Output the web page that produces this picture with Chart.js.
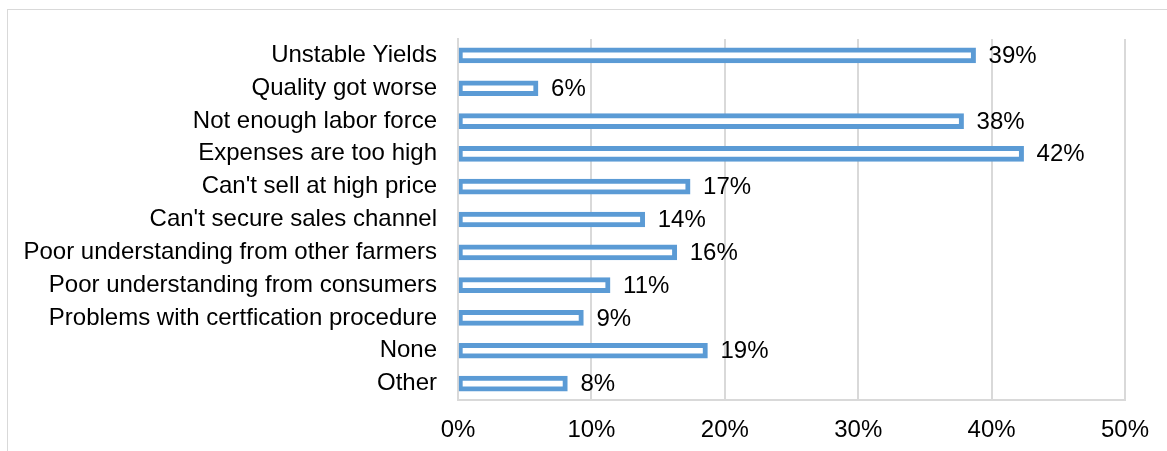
<!DOCTYPE html>
<html>
<head>
<meta charset="utf-8">
<script src="https://cdn.jsdelivr.net/npm/chart.js@4/dist/chart.umd.min.js"></script>
<style>
  html, body { margin: 0; padding: 0; background: #fff; overflow: hidden; }
  #frame { position: absolute; left: 7px; top: 9px; width: 1300px; height: 600px; border: 1px solid #d9d9d9; }
  #chart { position: absolute; left: 0; top: 0; }
</style>
</head>
<body>
<div id="frame"></div>
<canvas id="chart" width="1167" height="451"></canvas>
<script>
// problems reported, share of respondents (%)
var problems = [
  "Unstable Yields",
  "Quality got worse",
  "Not enough labor force",
  "Expenses are too high",
  "Can't sell at high price",
  "Can't secure sales channel",
  "Poor understanding from other farmers",
  "Poor understanding from consumers",
  "Problems with certfication procedure",
  "None",
  "Other"
];
var shares = [38.8, 6.0, 37.9, 42.4, 17.4, 14.0, 16.4, 11.4, 9.4, 18.7, 8.2];
var xTicks = [0, 10, 20, 30, 40, 50];

var FONT = { family: "'Liberation Sans', Arial, sans-serif", size: 24 };

// writes the rounded value right after every bar
var valueLabels = {
  id: 'valueLabels',
  afterDatasetsDraw: function(chart) {
    var ctx = chart.ctx;
    var meta = chart.getDatasetMeta(0);
    ctx.save();
    ctx.font = FONT.size + 'px ' + FONT.family;
    ctx.fillStyle = '#000';
    ctx.textAlign = 'left';
    ctx.textBaseline = 'middle';
    meta.data.forEach(function(bar, i) {
      ctx.fillText(Math.round(shares[i]) + '%', bar.x + 13, bar.y + 1);
    });
    ctx.restore();
  }
};

new Chart(document.getElementById('chart'), {
  type: 'bar',
  data: {
    labels: problems,
    datasets: [{
      data: shares,
      backgroundColor: '#ffffff',
      borderColor: '#5b9bd5',
      borderWidth: { top: 5, bottom: 5, left: 4, right: 5 },
      borderSkipped: false,
      barThickness: 15
    }]
  },
  options: {
    indexAxis: 'y',
    responsive: false,
    animation: false,
    events: [],
    layout: { padding: { top: 39, right: 42, left: 0, bottom: 0 } },
    plugins: { legend: { display: false }, tooltip: { enabled: false } },
    scales: {
      x: {
        min: 0,
        max: 50,
        afterBuildTicks: function(axis) {
          axis.ticks = xTicks.map(function(v) { return { value: v }; });
        },
        afterFit: function(axis) { axis.height = 51; },
        grid: { color: '#d9d9d9', lineWidth: 2, drawTicks: false },
        border: { color: '#d9d9d9', width: 2 },
        ticks: {
          color: '#000',
          font: FONT,
          padding: 16,
          callback: function(v) { return v + '%'; }
        }
      },
      y: {
        afterFit: function(axis) { axis.width = 458; },
        grid: { display: false, drawTicks: false },
        border: { color: '#d9d9d9', width: 2 },
        ticks: { color: '#000', font: FONT, padding: 21 }
      }
    }
  },
  plugins: [valueLabels]
});
</script>
</body>
</html>
